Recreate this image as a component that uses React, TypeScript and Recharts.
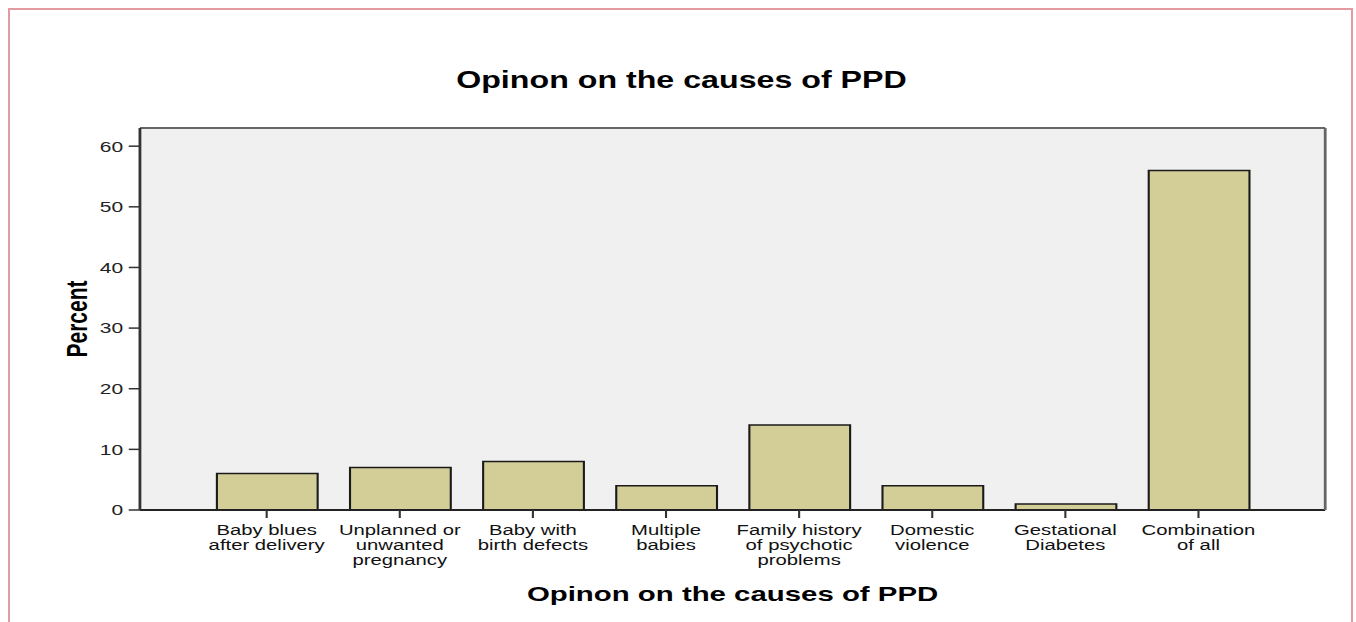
import React from 'react';
import { BarChart, Bar, XAxis, YAxis, CartesianGrid } from 'recharts';

// category labels, broken into lines the way the original axis shows them
const causeLines = [
  ['Baby blues', 'after delivery'],
  ['Unplanned or', 'unwanted', 'pregnancy'],
  ['Baby with', 'birth defects'],
  ['Multiple', 'babies'],
  ['Family history', 'of psychotic', 'problems'],
  ['Domestic', 'violence'],
  ['Gestational', 'Diabetes'],
  ['Combination', 'of all'],
];
const causes = causeLines.map((l) => l.join(' '));
const percents = [6, 7, 8, 4, 14, 4, 1, 56];
const yTicks = [0, 10, 20, 30, 40, 50, 60];

const data = causes.map((cause, i) => ({ cause, percent: percents[i] }));

const W = 1356;
const H = 622;
// the source picture is stretched sideways, so draw narrower and scale
const INNER_W = 969;
const SX = W / INNER_W;
const FONT = '"Liberation Sans", Arial, sans-serif';

function CauseTick(props: any) {
  const { x, y, payload } = props;
  const lines = causeLines[causes.indexOf(payload.value)] || [payload.value];
  return (
    <text x={x} y={y} textAnchor="middle" fontSize={14.5} fontFamily={FONT} fill="#111">
      {lines.map((line, i) => (
        <tspan key={i} x={x} dy={i === 0 ? 15 : 14.8}>
          {line}
        </tspan>
      ))}
    </text>
  );
}

function PercentLabel(props: any) {
  const vb = props.viewBox;
  const cx = vb.x + 55;
  const cy = vb.y + vb.height / 2;
  return (
    <text
      x={cx}
      y={cy}
      transform={`rotate(-90, ${cx}, ${cy})`}
      textAnchor="middle"
      dominantBaseline="central"
      fontSize={21}
      fontWeight="bold"
      fontFamily={FONT}
      fill="#000"
    >
      Percent
    </text>
  );
}

export default function App() {
  return (
    <div
      style={{
        position: 'absolute',
        left: 0,
        top: 0,
        width: W,
        height: H,
        overflow: 'hidden',
        background: '#fff',
      }}
    >
      <div
        style={{
          position: 'absolute',
          left: 8,
          top: 8,
          width: 1345,
          height: 700,
          border: '2px solid #e39aa1',
          boxSizing: 'border-box',
        }}
      />
      <div
        style={{
          position: 'absolute',
          left: 0,
          top: 0,
          width: INNER_W,
          height: H,
          transform: `scaleX(${SX})`,
          transformOrigin: '0 0',
        }}
      >
        <svg
          width={INNER_W}
          height={H}
          style={{ position: 'absolute', left: 0, top: 0, pointerEvents: 'none' }}
        >
          <text
            x={487}
            y={88}
            textAnchor="middle"
            fontSize={23}
            fontWeight="bold"
            fontFamily={FONT}
            fill="#000"
          >
            Opinon on the causes of PPD
          </text>
        </svg>
        <BarChart
          width={INNER_W}
          height={H}
          data={data}
          margin={{ top: 127, right: 21, bottom: 0, left: 0 }}
          barSize={72}
        >
          <CartesianGrid fill="#f0f0f0" horizontal={false} vertical={false} />
          <XAxis
            dataKey="cause"
            interval={0}
            height={112}
            padding={{ left: 43, right: 43 }}
            axisLine={{ stroke: '#222', strokeWidth: 2 }}
            tickLine={{ stroke: '#333', strokeWidth: 1.5 }}
            tickSize={8}
            tickMargin={2}
            tick={<CauseTick />}
            label={{
              value: 'Opinon on the causes of PPD',
              position: 'insideBottom',
              offset: 21,
              fontSize: 21,
              fontWeight: 'bold',
              fontFamily: FONT,
              fill: '#000',
            }}
          />
          <XAxis
            xAxisId="top"
            dataKey="cause"
            orientation="top"
            height={1}
            tick={false}
            tickLine={false}
            axisLine={{ stroke: '#666', strokeWidth: 2 }}
          />
          <YAxis
            width={100}
            domain={[0, 63]}
            ticks={yTicks}
            interval={0}
            axisLine={{ stroke: '#333', strokeWidth: 2 }}
            tickLine={{ stroke: '#333', strokeWidth: 1.5 }}
            tickSize={8}
            tickMargin={4}
            tick={{ fontSize: 15, fontFamily: FONT, fill: '#222' }}
            label={<PercentLabel />}
          />
          <YAxis
            yAxisId="right"
            orientation="right"
            width={1}
            domain={[0, 63]}
            tick={false}
            tickLine={false}
            axisLine={{ stroke: '#666', strokeWidth: 2 }}
          />
          <Bar
            dataKey="percent"
            fill="#d3ce98"
            stroke="#1a1a1a"
            strokeWidth={1.5}
            isAnimationActive={false}
          />
        </BarChart>
      </div>
    </div>
  );
}
